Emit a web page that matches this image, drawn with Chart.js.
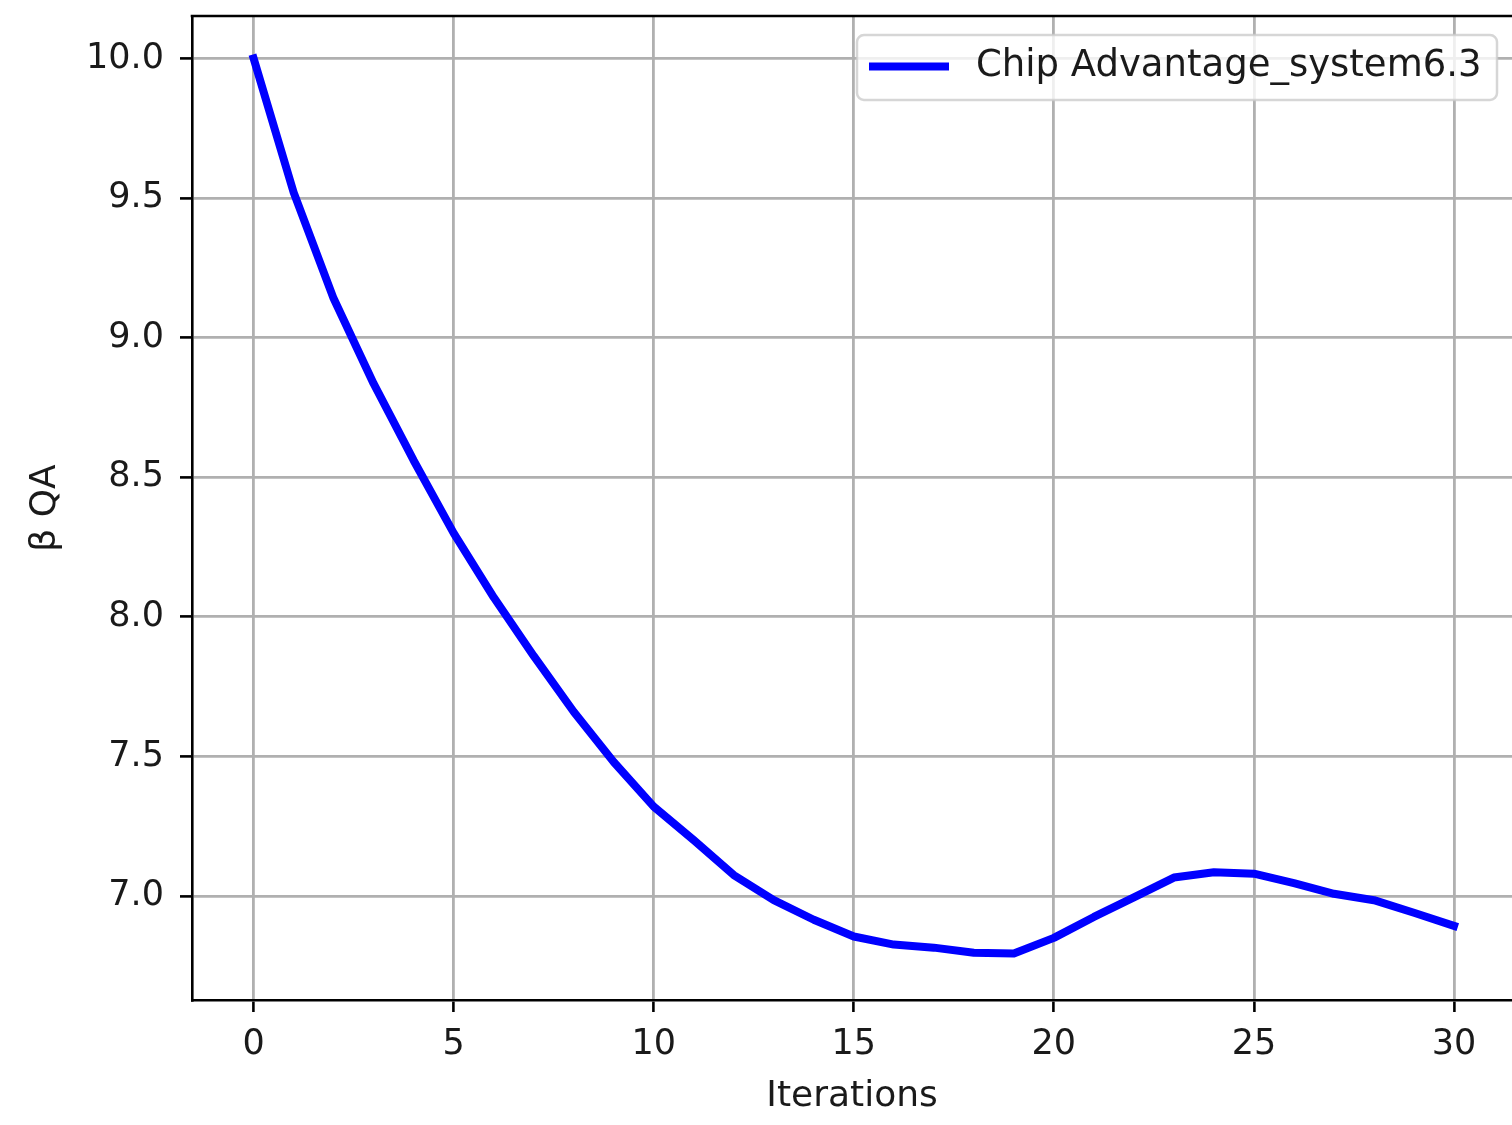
<!DOCTYPE html>
<html>
<head>
<meta charset="utf-8">
<title>β QA vs Iterations</title>
<script src="https://cdn.jsdelivr.net/npm/chart.js@4.4.1/dist/chart.umd.min.js"></script>
<style>
  html, body { margin: 0; padding: 0; background: #fff; }
  canvas { display: block; }
</style>
</head>
<body>
<canvas id="plot" width="1512" height="1125"></canvas>
<script>
var seriesName = "Chip Advantage_system6.3";
var iterations = [0, 1, 2, 3, 4, 5, 6, 7, 8, 9, 10, 11, 12, 13, 14, 15,
                  16, 17, 18, 19, 20, 21, 22, 23, 24, 25, 26, 27, 28, 29, 30];
var betaQA = [10.0, 9.52, 9.14, 8.835, 8.56, 8.30, 8.07, 7.86, 7.66, 7.48, 7.32,
              7.20, 7.075, 6.985, 6.915, 6.855, 6.826, 6.815, 6.797, 6.794, 6.85,
              6.925, 6.995, 7.066, 7.085, 7.08, 7.046, 7.008, 6.985, 6.94, 6.893];
var xTicks = [0, 5, 10, 15, 20, 25, 30];
var yTicks = [7.0, 7.5, 8.0, 8.5, 9.0, 9.5, 10.0];

var FONT = "'DejaVu Sans', sans-serif";
var TEXT = '#1a1a1a';
var GRID = '#b0b0b0';

// chart.js only draws the left/bottom borders, add the top spine
var frame = {
  id: 'frame',
  afterDraw: function(chart) {
    var a = chart.chartArea, ctx = chart.ctx;
    ctx.save();
    ctx.strokeStyle = '#000';
    ctx.lineWidth = 2.6;
    ctx.beginPath();
    ctx.moveTo(a.left - 1.3, a.top);
    ctx.lineTo(a.right + 2, a.top);
    ctx.stroke();
    ctx.restore();
  }
};

// matplotlib style legend box in the upper right corner
var legendBox = {
  id: 'legendBox',
  afterDraw: function(chart) {
    var ctx = chart.ctx;
    var ds = chart.data.datasets[0];
    var x = 857, y = 35, w = 640, h = 65, r = 7;
    ctx.save();
    ctx.beginPath();
    ctx.roundRect(x, y, w, h, r);
    ctx.fillStyle = 'rgba(255,255,255,0.8)';
    ctx.fill();
    ctx.strokeStyle = 'rgba(204,204,204,0.8)';
    ctx.lineWidth = 2.5;
    ctx.stroke();

    ctx.strokeStyle = ds.borderColor;
    ctx.lineWidth = ds.borderWidth;
    ctx.lineCap = 'butt';
    ctx.beginPath();
    ctx.moveTo(869, y + h / 2 - 1);
    ctx.lineTo(949, y + h / 2 - 1);
    ctx.stroke();

    ctx.fillStyle = TEXT;
    ctx.font = '37px ' + FONT;
    ctx.textAlign = 'left';
    ctx.textBaseline = 'middle';
    ctx.fillText(ds.label, 976, y + h / 2 - 1);
    ctx.restore();
  }
};

new Chart(document.getElementById('plot'), {
  type: 'line',
  data: {
    datasets: [{
      label: seriesName,
      data: iterations.map(function(it, i) { return { x: it, y: betaQA[i] }; }),
      borderColor: '#0000ff',
      borderWidth: 8,
      borderCapStyle: 'square',
      borderJoinStyle: 'round',
      pointRadius: 0,
      tension: 0,
      fill: false
    }]
  },
  options: {
    responsive: false,
    animation: false,
    devicePixelRatio: 1,
    layout: { padding: { top: 16, right: 0, bottom: 0, left: 0 } },
    plugins: {
      legend: { display: false },
      tooltip: { enabled: false }
    },
    scales: {
      x: {
        type: 'linear',
        min: -1.54,
        max: 31.45,
        afterFit: function(s) {
          s.height = 125;
          s.paddingLeft = 0;
          s.paddingRight = 0;
        },
        afterBuildTicks: function(s) { s.ticks = xTicks.map(function(v) { return { value: v }; }); },
        grid: { color: GRID, lineWidth: 2.8, tickColor: '#000', tickLength: 12, tickWidth: 2.6 },
        border: { color: '#000', width: 2.6 },
        ticks: {
          color: TEXT,
          padding: 12,
          font: { family: FONT, size: 35 },
          maxRotation: 0,
          callback: function(v) { return String(v); }
        },
        title: {
          display: true,
          text: 'Iterations',
          color: TEXT,
          font: { family: FONT, size: 36 },
          padding: { top: 0, bottom: 7 }
        }
      },
      y: {
        type: 'linear',
        min: 6.6275,
        max: 10.152,
        afterFit: function(s) {
          s.width = 192;
          s.paddingTop = 0;
          s.paddingBottom = 0;
        },
        afterBuildTicks: function(s) { s.ticks = yTicks.map(function(v) { return { value: v }; }); },
        grid: { color: GRID, lineWidth: 2.8, tickColor: '#000', tickLength: 12, tickWidth: 2.6 },
        border: { color: '#000', width: 2.6 },
        ticks: {
          color: TEXT,
          padding: 16,
          font: { family: FONT, size: 35 },
          callback: function(v) { return v.toFixed(1); }
        },
        title: {
          display: true,
          text: 'β QA',
          color: TEXT,
          font: { family: FONT, size: 36 },
          padding: { top: 24, bottom: 0 }
        }
      }
    }
  },
  plugins: [frame, legendBox]
});
</script>
</body>
</html>
